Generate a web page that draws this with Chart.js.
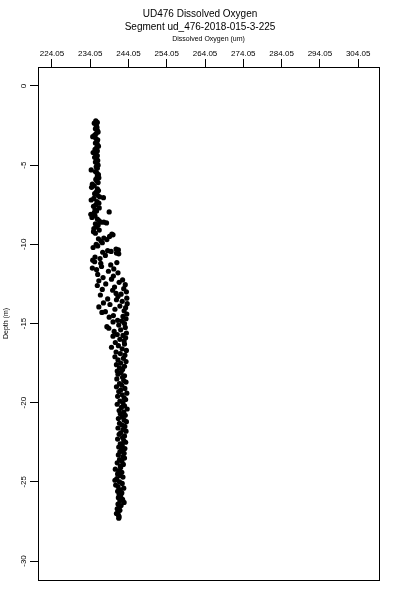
<!DOCTYPE html>
<html>
<head>
<meta charset="utf-8">
<script src="https://cdn.jsdelivr.net/npm/chart.js@4"></script>
<style>
  body { margin: 0; background: #fff; }
  canvas { display: block; }
</style>
</head>
<body>
<canvas id="myChart" width="400" height="600"></canvas>
<script>
const titleLines = ["UD476 Dissolved Oxygen", "Segment ud_476-2018-015-3-225"];
const xTicks = [224.05, 234.05, 244.05, 254.05, 264.05, 274.05, 284.05, 294.05, 304.05];
const yTicks = [0, -5, -10, -15, -20, -25, -30];

// depth (m)
const depth = [
  -2.2,-2.3,-2.35,-2.5,-2.6,-2.7,-2.8,-2.9,-3.0,-3.1,-3.2,-3.3,-3.4,-3.5,-3.6,-3.7,-3.8,-3.9,-4.0,-4.1,-4.2,-4.3,-4.4,-4.5,-4.6,-4.7,-4.8,-4.9,-5.0,
  -5.1,-5.2,-5.3,-5.4,-5.5,-5.6,-5.7,-5.8,-5.9,-6.0,-6.1,-6.2,-6.3,-6.4,-6.5,-6.6,-6.7,-6.8,-6.9,-7.0,-7.05,-7.1,-7.2,-7.3,-7.4,-7.5,-7.6,-7.7,-7.8,-7.9,-7.95,-8.0,
  -8.1,-8.15,-8.2,-8.3,-8.4,-8.5,-8.6,-8.6,-8.65,-8.7,-8.8,-8.9,-9.0,-9.1,-9.2,-9.3,-9.35,-9.4,-9.5,-9.6,-9.65,-9.7,-9.8,-9.9,-10.0,
  -10.1,-10.2,-10.3,-10.35,-10.4,-10.45,-10.5,-10.55,-10.6,-10.7,-10.8,-10.9,-11.0,-11.1,-11.15,-11.2,-11.3,-11.4,-11.5,-11.55,-11.6,-11.7,-11.8,-11.9,-12.0,
  -12.1,-12.2,-12.25,-12.3,-12.4,-12.5,-12.55,-12.6,-12.7,-12.8,-12.85,-12.9,-13.0,-13.1,-13.15,-13.2,-13.3,-13.4,-13.45,-13.5,
  -13.6,-13.7,-13.75,-13.8,-13.9,-13.95,-14.0,-14.1,-14.2,-14.25,-14.3,-14.4,-14.5,-14.55,-14.6,-14.7,-14.8,-14.85,-14.9,-15.0,
  -15.1,-15.2,-15.25,-15.3,-15.4,-15.5,-15.6,-15.7,-15.75,-15.8,-15.9,-16.0,-16.1,-16.2,-16.3,-16.4,-16.5,-16.6,-16.7,-16.8,
  -16.9,-17.0,-17.1,-17.2,-17.3,-17.4,-17.5,-17.6,-17.7,-17.8,-17.9,-18.0,
  -18.1,-18.2,-18.3,-18.4,-18.5,-18.6,-18.7,-18.8,-18.9,-19.0,-19.1,-19.2,-19.3,-19.4,-19.5,-19.6,-19.7,-19.8,-19.9,-20.0,
  -20.1,-20.2,-20.3,-20.4,-20.5,-20.6,-20.7,-20.8,-20.9,-21.0,-21.1,-21.2,-21.3,-21.4,-21.5,-21.6,-21.7,-21.8,-21.9,-22.0,
  -22.1,-22.2,-22.3,-22.4,-22.5,-22.6,-22.7,-22.8,-22.9,-23.0,-23.1,-23.2,-23.3,-23.4,-23.5,-23.6,-23.7,-23.8,-23.9,-24.0,
  -24.1,-24.2,-24.3,-24.4,-24.5,-24.6,-24.7,-24.8,-24.9,-25.0,-25.1,-25.2,-25.3,-25.4,-25.5,-25.6,-25.7,-25.8,-25.9,-26.0,
  -26.1,-26.2,-26.3,-26.4,-26.5,-26.6,-26.7,-26.8,-26.9,-27.0,-27.1,-27.2,-27.3
];

// dissolved oxygen (um), same order as depth
const oxygen = [
  235.5,235.9,235.1,235.6,235.8,235.4,235.9,236.1,235.6,235.2,234.7,235.5,236.0,235.8,235.4,235.9,236.2,235.7,235.3,235.9,234.8,235.5,235.9,235.2,235.6,236.0,235.4,235.8,236.1,
  235.6,235.9,234.3,235.4,235.8,236.2,235.9,236.3,235.5,235.8,236.1,234.6,235.1,234.4,235.9,236.2,235.6,235.2,236.0,236.5,237.5,235.0,234.3,235.8,236.3,235.5,234.9,236.4,235.3,235.7,239.0,235.1,
  234.2,234.8,235.3,234.5,235.9,236.3,236.8,237.6,238.3,235.4,236.1,235.6,235.0,236.4,234.9,235.4,239.7,240.0,239.1,237.6,236.2,238.4,236.9,237.2,235.6,
  236.0,234.8,240.8,241.4,238.6,239.5,237.3,240.9,241.5,238.0,235.3,236.6,234.7,235.2,241.0,236.8,239.4,237.0,234.6,240.2,235.7,238.8,241.3,236.0,240.1,
  237.4,239.6,242.5,236.3,241.6,238.1,243.2,235.9,240.4,242.8,237.2,239.9,243.5,240.8,242.1,236.7,241.3,243.6,238.6,240.9,
  242.4,237.5,243.7,239.2,241.8,236.3,243.3,240.5,242.9,238.0,237.1,243.6,240.1,242.6,239.0,243.4,241.2,242.3,240.0,243.0,
  241.5,238.4,243.2,238.9,242.0,240.3,243.5,241.1,242.6,240.0,243.3,241.8,242.9,240.6,243.0,241.4,239.6,242.4,243.5,240.8,
  241.9,243.1,240.5,242.7,241.3,243.4,242.0,240.9,243.0,241.7,242.5,241.1,
  242.1,241.3,243.0,242.5,241.0,242.8,243.4,241.7,242.3,240.9,243.1,242.0,241.5,243.6,242.4,241.2,242.9,243.3,241.8,242.6,
  241.1,243.0,242.2,243.7,241.6,242.8,241.9,243.2,242.4,241.4,242.9,243.5,241.7,242.3,243.1,241.3,242.6,243.4,242.0,241.6,
  243.0,242.5,241.2,242.8,243.3,241.9,242.4,241.5,243.1,242.2,241.8,242.9,241.4,242.6,243.0,241.7,242.3,241.1,242.7,241.9,
  242.0,240.6,241.5,242.3,241.2,241.9,242.6,241.0,240.5,241.7,242.4,240.7,241.3,242.8,241.9,241.2,242.3,241.6,242.0,241.4,
  242.5,241.8,242.9,241.3,242.1,241.6,241.1,241.8,241.3,240.9,241.4,241.6,241.5
];

const fontFamily = "Arial, 'Liberation Sans', sans-serif";

const ctx = document.getElementById("myChart").getContext("2d");
const myChart = new Chart(ctx, {
  type: "scatter",
  data: {
    datasets: [
      {
        data: depth.map((d, i) => ({ x: oxygen[i], y: d })),
        backgroundColor: "#000",
        borderColor: "#000",
        borderWidth: 0,
        pointRadius: 2.6,
      },
    ],
  },
  options: {
    responsive: false,
    animation: false,
    layout: { padding: 0 },
    plugins: {
      legend: { display: false },
      tooltip: { enabled: false },
      title: {
        display: true,
        text: titleLines,
        color: "#000",
        font: { family: fontFamily, size: 10, weight: "normal", lineHeight: 1.25 },
        padding: { top: 8, bottom: 0 },
      },
    },
    scales: {
      x: {
        type: "linear",
        position: "top",
        min: 220.4,
        max: 309.5,
        afterBuildTicks: (s) => { s.ticks = xTicks.map((v) => ({ value: v })); },
        afterFit: (s) => { s.height = 34; },
        ticks: {
          color: "#000",
          font: { family: "'Liberation Sans Narrow', " + fontFamily, size: 8 },
          padding: 0,
          maxRotation: 0,
          callback: (v) => Number(v).toFixed(2),
        },
        grid: { drawOnChartArea: false, drawTicks: true, tickLength: 8, color: "#000" },
        border: { display: true, color: "#000" },
        title: {
          display: true,
          text: "Dissolved Oxygen (um)",
          color: "#000",
          font: { family: fontFamily, size: 7 },
          padding: { top: 2, bottom: 0 },
        },
      },
      y: {
        type: "linear",
        position: "left",
        min: -31.2,
        max: 1.2,
        afterBuildTicks: (s) => { s.ticks = yTicks.map((v) => ({ value: v })); },
        afterFit: (s) => { s.width = 38; },
        ticks: {
          color: "#000",
          font: { family: fontFamily, size: 8 },
          padding: 0,
          minRotation: 90,
          maxRotation: 90,
          crossAlign: "center",
          callback: (v) => String(v),
        },
        grid: { drawOnChartArea: false, drawTicks: true, tickLength: 8, color: "#000" },
        border: { display: true, color: "#000" },
        title: {
          display: true,
          text: "Depth (m)",
          color: "#000",
          font: { family: fontFamily, size: 7 },
          padding: { top: 2, bottom: 0 },
        },
      },
      x2: {
        type: "linear",
        position: "bottom",
        afterFit: (s) => { s.height = 20; },
        ticks: { display: false },
        grid: { display: false, drawTicks: false },
        border: { display: true, color: "#000" },
      },
      y2: {
        type: "linear",
        position: "right",
        afterFit: (s) => { s.width = 21; },
        ticks: { display: false },
        grid: { display: false, drawTicks: false },
        border: { display: true, color: "#000" },
      },
    },
  },
});
</script>
</body>
</html>
